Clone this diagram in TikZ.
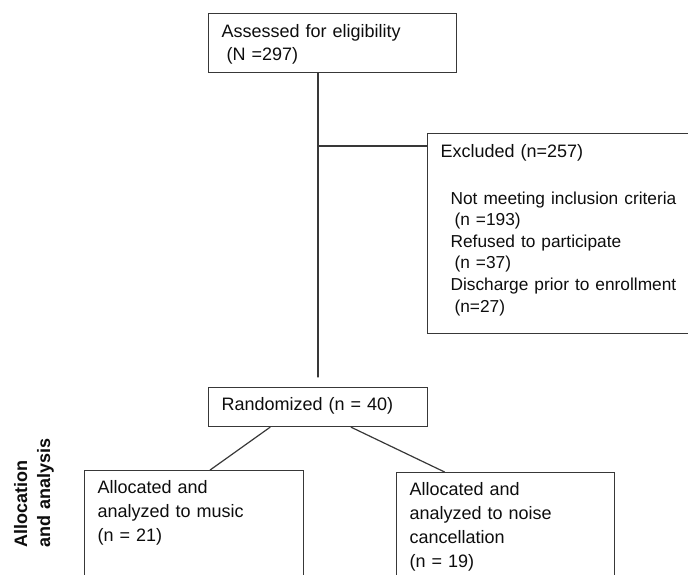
\documentclass[tikz,border=0pt]{standalone}
\usepackage{fontspec}
\setmainfont{Liberation Sans}
\colorlet{penColor}{black!78}
\colorlet{inkColor}{black!95}
\tikzset{box/.style={draw=penColor,line width=1.2pt,rectangle,anchor=north west,
    align=left,inner xsep=13pt,text=inkColor,text height=13pt,
    font=\fontsize{18}{23.3}\selectfont}}

\begin{document}
\begin{tikzpicture}[x=1pt,y=-1pt,line cap=round]

  \useasboundingbox (0,0) rectangle (688,574);
  \clip (0,0) rectangle (688,574);

  % boxes
  \node [box,text width=222pt,inner ysep=10.7pt,text depth=24.6pt] (assess) at (208,13)
    {Assessed for eligibility\\\hspace*{5pt}(N =297)};

  \node [box,text width=264pt,inner ysep=10.5pt,text depth=166pt] (excl) at (427,133)
    {Excluded (n=257)\par\vspace{25.4pt}
     {\fontsize{17.3}{21.6}\selectfont\leftskip=10pt
      Not meeting inclusion criteria\\\hspace*{4pt}(n =193)\\
      Refused to participate\\\hspace*{4pt}(n =37)\\
      Discharge prior to enrollment\\\hspace*{4pt}(n=27)\par}};

  \node [box,text width=193pt,inner ysep=9.5pt,text depth=7pt] (rand) at (208,387)
    {Randomized (n = 40)};

  \node [box,text width=193pt,inner ysep=10pt,text depth=97pt,
    font=\fontsize{18}{24}\selectfont] (music) at (84,470)
    {Allocated and\\analyzed to music\\(n = 21)};

  \node [box,text width=192pt,inner ysep=9.5pt,text depth=98pt,
    font=\fontsize{18}{24}\selectfont] (noise) at (396,472)
    {Allocated and\\analyzed to noise\\cancellation\\(n = 19)};

  % side label
  \node [rotate=90,anchor=north west,inner sep=0pt,align=left,text width=120pt,
    text=inkColor,font=\bfseries\fontsize{18}{23}\selectfont] (phase) at (14,548)
    {Allocation\\and analysis};

  % connectors
  \coordinate (trunk) at (318,377);
  \coordinate (split) at (318,146);
  \draw [penColor,line width=1.2pt] (assess.south -| trunk) -- (trunk);
  \draw [penColor,line width=1.2pt] (split) -- (split -| excl.west);

  \draw [penColor,line width=1.2pt] ([xshift=-48pt]rand.south) -- ([xshift=16pt]music.north);
  \draw [penColor,line width=1.2pt] ([xshift=33pt]rand.south) -- ([xshift=-61pt]noise.north);

\end{tikzpicture}
\end{document}
